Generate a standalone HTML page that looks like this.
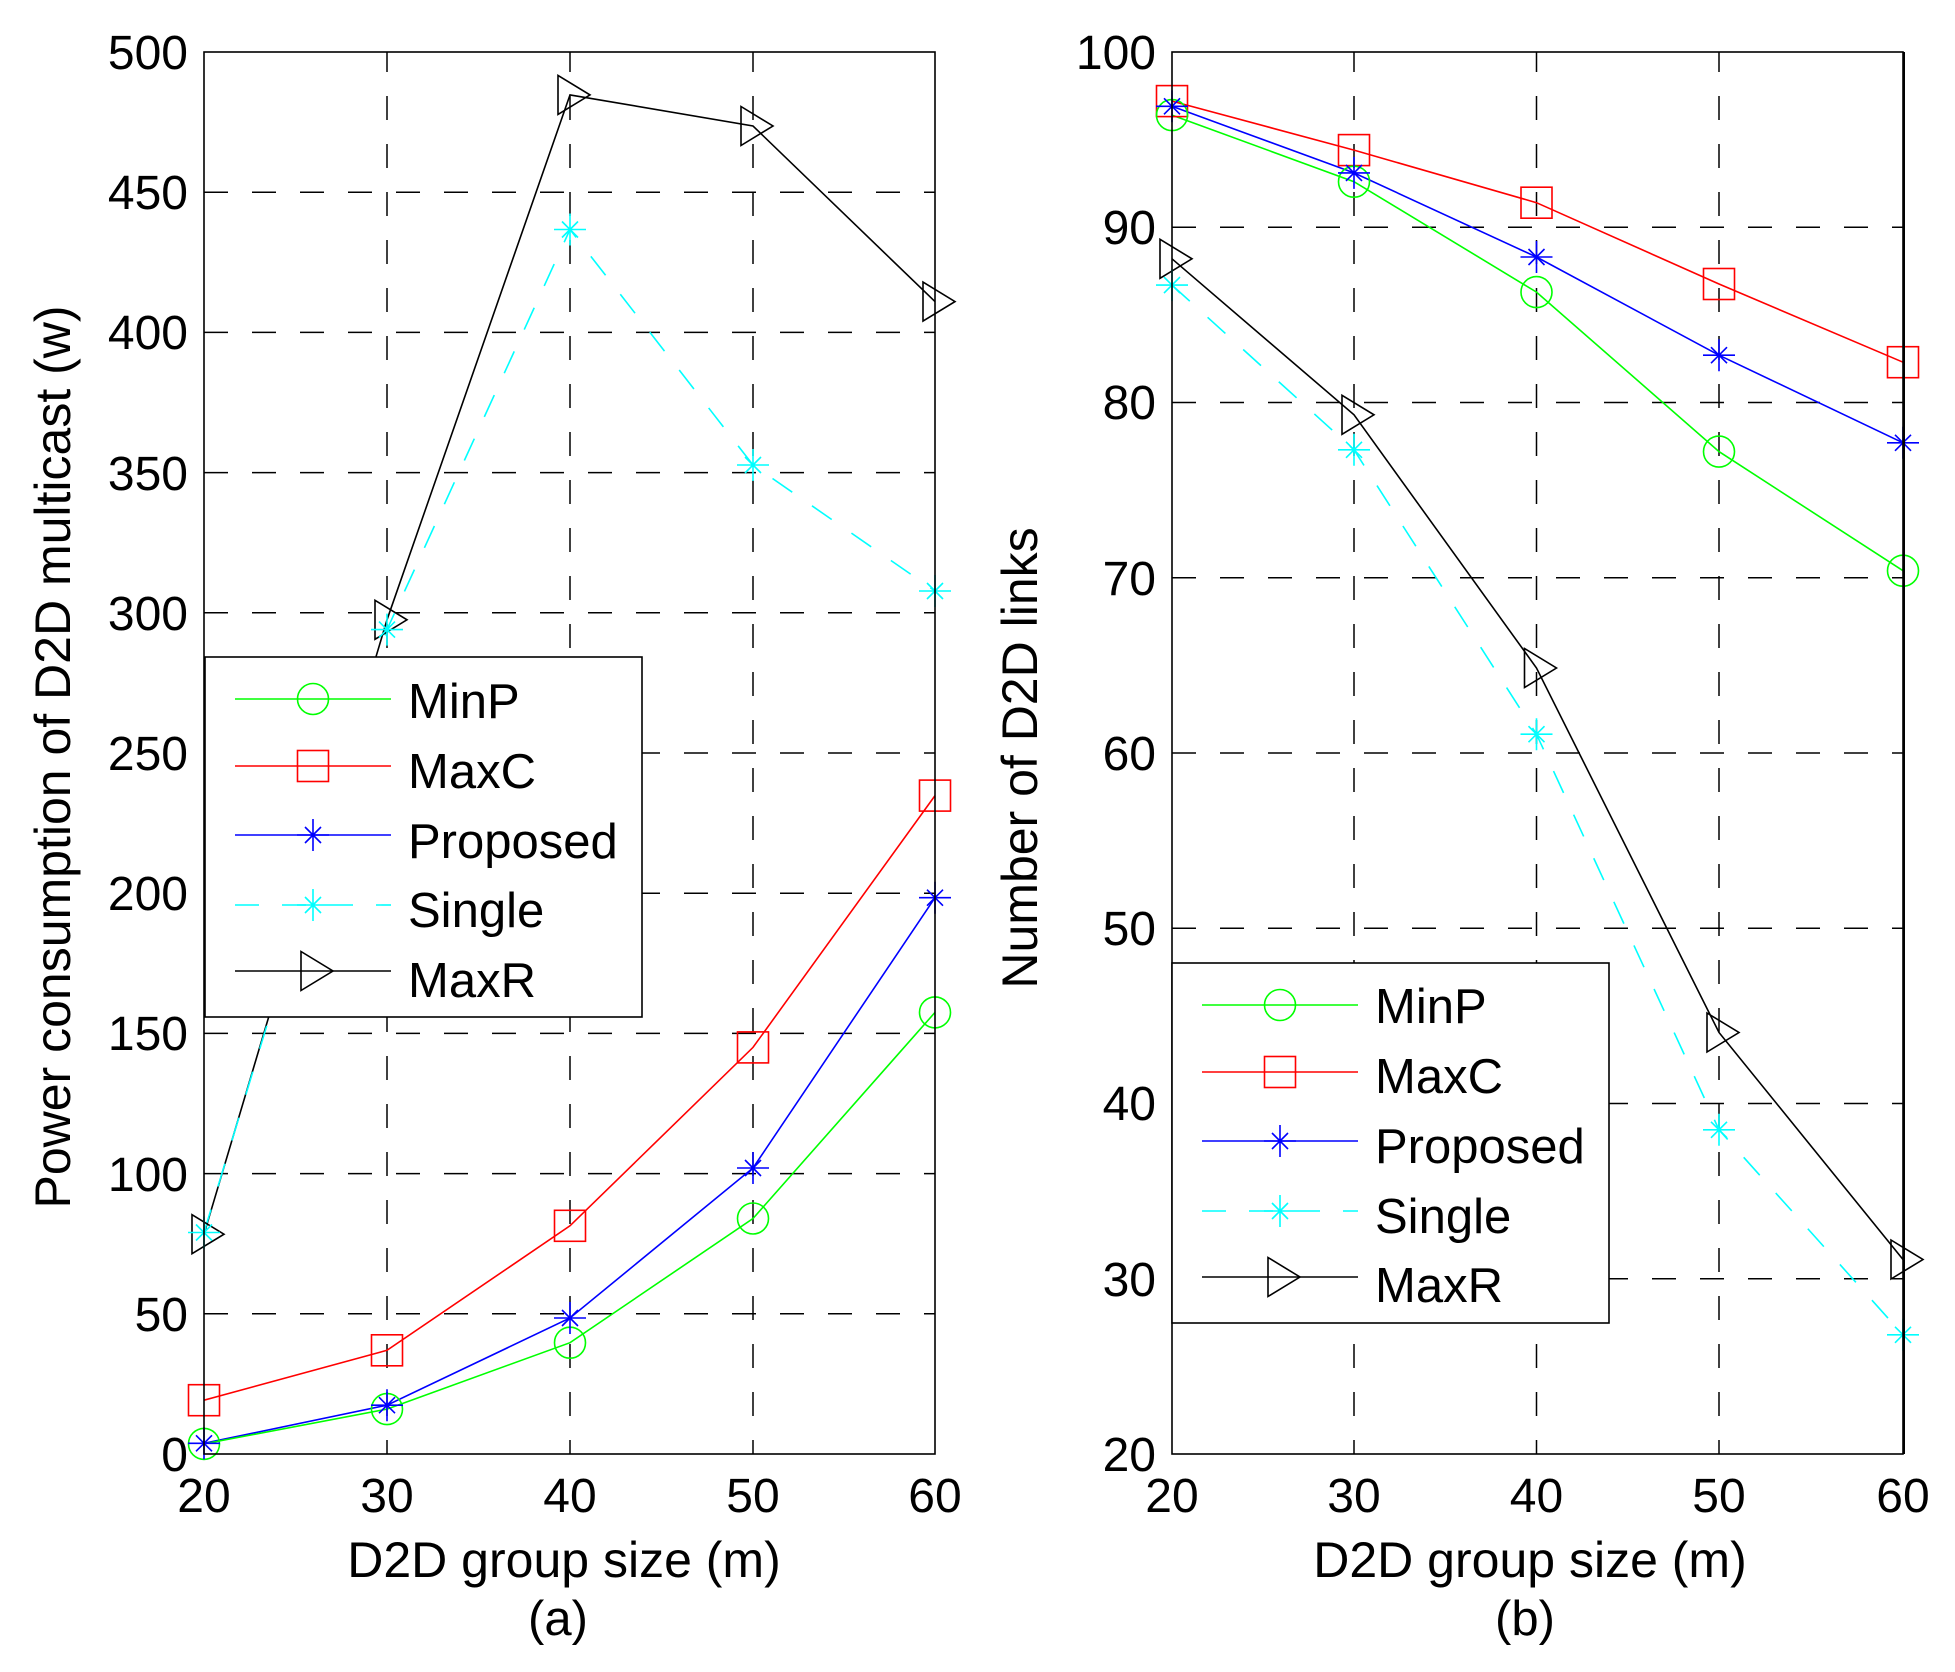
<!DOCTYPE html>
<html>
<head>
<meta charset="utf-8">
<style>
html,body{margin:0;padding:0;background:#fff;}
svg{display:block;}
text{font-family:"Liberation Sans",Arial,sans-serif;fill:#000;}
</style>
</head>
<body>
<svg width="1955" height="1672" viewBox="0 0 1955 1672" xmlns="http://www.w3.org/2000/svg">
<defs>
<circle id="o" r="15.5" fill="none"/>
<rect id="s" x="-15.5" y="-15.5" width="31" height="31" fill="none"/>
<path id="a" d="M-16 0H16M0 -16V16M-8 -8L8 8M-8 8L8 -8" fill="none"/>
<path id="t" d="M-12 -19.5L-12 19.5L20 0Z" fill="none"/>
</defs>
<rect x="0" y="0" width="1955" height="1672" fill="#fff"/>

<!-- ================= LEFT PLOT ================= -->
<g stroke="#000" stroke-width="1.5" stroke-dasharray="24 24" fill="none">
  <path d="M204 1313.8H935M204 1173.6H935M204 1033.4H935M204 893.2H935M204 753H935M204 612.8H935M204 472.6H935M204 332.4H935M204 192.2H935"/>
  <path stroke-dashoffset="4" d="M387 52V1454M570 52V1454M753 52V1454"/>
</g>

<g fill="none" stroke-width="1.6">
  <polyline stroke="#000" points="204,1234.2 387,619.8 570,94.9 753,126 935,301.6"/>
  <polyline stroke="#00ffff" stroke-dasharray="24 24" points="204,1232.5 387,629.6 570,229.5 753,465 935,591"/>
  <polyline stroke="#ff0000" points="204,1400.2 387,1350.3 570,1225.8 753,1047.4 935,795.6"/>
  <polyline stroke="#0000ff" points="204,1443.3 387,1405.2 570,1318 753,1168 935,897.7"/>
  <polyline stroke="#00ff00" points="204,1443.9 387,1409.1 570,1342.7 753,1218.5 935,1012.4"/>
</g>
<g stroke-width="1.6">
  <g stroke="#000"><use href="#t" x="204" y="1234.2"/><use href="#t" x="387" y="619.8"/><use href="#t" x="570" y="94.9"/><use href="#t" x="753" y="126"/><use href="#t" x="935" y="301.6"/></g>
  <g stroke="#00ffff"><use href="#a" x="204" y="1232.5"/><use href="#a" x="387" y="629.6"/><use href="#a" x="570" y="229.5"/><use href="#a" x="753" y="465"/><use href="#a" x="935" y="591"/></g>
  <g stroke="#ff0000"><use href="#s" x="204" y="1400.2"/><use href="#s" x="387" y="1350.3"/><use href="#s" x="570" y="1225.8"/><use href="#s" x="753" y="1047.4"/><use href="#s" x="935" y="795.6"/></g>
  <g stroke="#00ff00"><use href="#o" x="204" y="1443.9"/><use href="#o" x="387" y="1409.1"/><use href="#o" x="570" y="1342.7"/><use href="#o" x="753" y="1218.5"/><use href="#o" x="935" y="1012.4"/></g>
  <g stroke="#0000ff"><use href="#a" x="204" y="1443.3"/><use href="#a" x="387" y="1405.2"/><use href="#a" x="570" y="1318"/><use href="#a" x="753" y="1168"/><use href="#a" x="935" y="897.7"/></g>
</g>

<rect x="204" y="52" width="731" height="1402" fill="none" stroke="#000" stroke-width="1.6"/>

<!-- legend left -->
<rect x="205" y="657" width="437" height="360" fill="#fff" stroke="#000" stroke-width="1.6"/>
<g stroke-width="1.6" fill="none">
  <line x1="235" y1="699" x2="391" y2="699" stroke="#00ff00"/>
  <use href="#o" x="313" y="699" stroke="#00ff00"/>
  <line x1="235" y1="766" x2="391" y2="766" stroke="#ff0000"/>
  <use href="#s" x="313" y="766" stroke="#ff0000"/>
  <line x1="235" y1="835" x2="391" y2="835" stroke="#0000ff"/>
  <use href="#a" x="313" y="835" stroke="#0000ff"/>
  <line x1="235" y1="905" x2="391" y2="905" stroke="#00ffff" stroke-dasharray="24 23"/>
  <use href="#a" x="313" y="905" stroke="#00ffff"/>
  <line x1="235" y1="971" x2="391" y2="971" stroke="#000"/>
  <use href="#t" x="313" y="971" stroke="#000"/>
</g>
<g font-size="49">
  <text x="408" y="718">MinP</text>
  <text x="408" y="788">MaxC</text>
  <text x="408" y="858">Proposed</text>
  <text x="408" y="927">Single</text>
  <text x="408" y="997">MaxR</text>
</g>

<!-- left ticks -->
<g font-size="48" text-anchor="end">
  <text x="188" y="1471">0</text>
  <text x="188" y="1331">50</text>
  <text x="188" y="1191">100</text>
  <text x="188" y="1050">150</text>
  <text x="188" y="910">200</text>
  <text x="188" y="770">250</text>
  <text x="188" y="630">300</text>
  <text x="188" y="490">350</text>
  <text x="188" y="349">400</text>
  <text x="188" y="209">450</text>
  <text x="188" y="69">500</text>
</g>
<g font-size="48" text-anchor="middle">
  <text x="204" y="1512">20</text>
  <text x="387" y="1512">30</text>
  <text x="570" y="1512">40</text>
  <text x="753" y="1512">50</text>
  <text x="935" y="1512">60</text>
</g>
<text x="564" y="1577" font-size="50" text-anchor="middle">D2D group size (m)</text>
<text x="558" y="1635" font-size="49" text-anchor="middle">(a)</text>
<text transform="translate(70,757) rotate(-90)" font-size="50" text-anchor="middle">Power consumption of D2D multicast (w)</text>

<!-- ================= RIGHT PLOT ================= -->
<g stroke="#000" stroke-width="1.5" stroke-dasharray="24 24" fill="none">
  <path d="M1172 1278.75H1903M1172 1103.5H1903M1172 928.25H1903M1172 753H1903M1172 577.75H1903M1172 402.5H1903M1172 227.25H1903"/>
  <path stroke-dashoffset="4" d="M1354 52V1454M1536.5 52V1454M1719 52V1454"/>
</g>

<g fill="none" stroke-width="1.6">
  <polyline stroke="#000" points="1172,258.8 1354,414.8 1536.5,668 1719,1032.5 1903,1259.5"/>
  <polyline stroke="#00ffff" stroke-dasharray="24 24" points="1172,285.1 1354,449.8 1536.5,734.2 1719,1129.8 1903,1334.8"/>
  <polyline stroke="#ff0000" points="1172,101.1 1354,150.1 1536.5,202.7 1719,284 1903,362.2"/>
  <polyline stroke="#0000ff" points="1172,106.3 1354,172.9 1536.5,257 1719,355.2 1903,442.8"/>
  <polyline stroke="#00ff00" points="1172,115.1 1354,181.7 1536.5,292.1 1719,451.6 1903,570.7"/>
</g>
<g stroke-width="1.6">
  <g stroke="#000"><use href="#t" x="1172" y="258.8"/><use href="#t" x="1354" y="414.8"/><use href="#t" x="1536.5" y="668"/><use href="#t" x="1719" y="1032.5"/><use href="#t" x="1903" y="1259.5"/></g>
  <g stroke="#00ffff"><use href="#a" x="1172" y="285.1"/><use href="#a" x="1354" y="449.8"/><use href="#a" x="1536.5" y="734.2"/><use href="#a" x="1719" y="1129.8"/><use href="#a" x="1903" y="1334.8"/></g>
  <g stroke="#ff0000"><use href="#s" x="1172" y="101.1"/><use href="#s" x="1354" y="150.1"/><use href="#s" x="1536.5" y="202.7"/><use href="#s" x="1719" y="284"/><use href="#s" x="1903" y="362.2"/></g>
  <g stroke="#00ff00"><use href="#o" x="1172" y="115.1"/><use href="#o" x="1354" y="181.7"/><use href="#o" x="1536.5" y="292.1"/><use href="#o" x="1719" y="451.6"/><use href="#o" x="1903" y="570.7"/></g>
  <g stroke="#0000ff"><use href="#a" x="1172" y="106.3"/><use href="#a" x="1354" y="172.9"/><use href="#a" x="1536.5" y="257"/><use href="#a" x="1719" y="355.2"/><use href="#a" x="1903" y="442.8"/></g>
</g>

<rect x="1172" y="52" width="731" height="1402" fill="none" stroke="#000" stroke-width="1.6"/>
<line x1="1904" y1="52" x2="1904" y2="1454" stroke="#000" stroke-width="2"/>

<!-- legend right -->
<rect x="1172" y="963" width="437" height="360" fill="#fff" stroke="#000" stroke-width="1.6"/>
<g stroke-width="1.6" fill="none">
  <line x1="1202" y1="1005" x2="1358" y2="1005" stroke="#00ff00"/>
  <use href="#o" x="1280" y="1005" stroke="#00ff00"/>
  <line x1="1202" y1="1072" x2="1358" y2="1072" stroke="#ff0000"/>
  <use href="#s" x="1280" y="1072" stroke="#ff0000"/>
  <line x1="1202" y1="1141" x2="1358" y2="1141" stroke="#0000ff"/>
  <use href="#a" x="1280" y="1141" stroke="#0000ff"/>
  <line x1="1202" y1="1211" x2="1358" y2="1211" stroke="#00ffff" stroke-dasharray="24 23"/>
  <use href="#a" x="1280" y="1211" stroke="#00ffff"/>
  <line x1="1202" y1="1277" x2="1358" y2="1277" stroke="#000"/>
  <use href="#t" x="1280" y="1277" stroke="#000"/>
</g>
<g font-size="49">
  <text x="1375" y="1023">MinP</text>
  <text x="1375" y="1093">MaxC</text>
  <text x="1375" y="1163">Proposed</text>
  <text x="1375" y="1233">Single</text>
  <text x="1375" y="1302">MaxR</text>
</g>

<!-- right ticks -->
<g font-size="48" text-anchor="end">
  <text x="1156" y="1471">20</text>
  <text x="1156" y="1296">30</text>
  <text x="1156" y="1120">40</text>
  <text x="1156" y="945">50</text>
  <text x="1156" y="770">60</text>
  <text x="1156" y="595">70</text>
  <text x="1156" y="419">80</text>
  <text x="1156" y="244">90</text>
  <text x="1156" y="69">100</text>
</g>
<g font-size="48" text-anchor="middle">
  <text x="1172" y="1512">20</text>
  <text x="1354" y="1512">30</text>
  <text x="1536.5" y="1512">40</text>
  <text x="1719" y="1512">50</text>
  <text x="1903" y="1512">60</text>
</g>
<text x="1530" y="1577" font-size="50" text-anchor="middle">D2D group size (m)</text>
<text x="1525" y="1635" font-size="49" text-anchor="middle">(b)</text>
<text transform="translate(1037,758) rotate(-90)" font-size="50" text-anchor="middle">Number of D2D links</text>
</svg>
</body>
</html>
